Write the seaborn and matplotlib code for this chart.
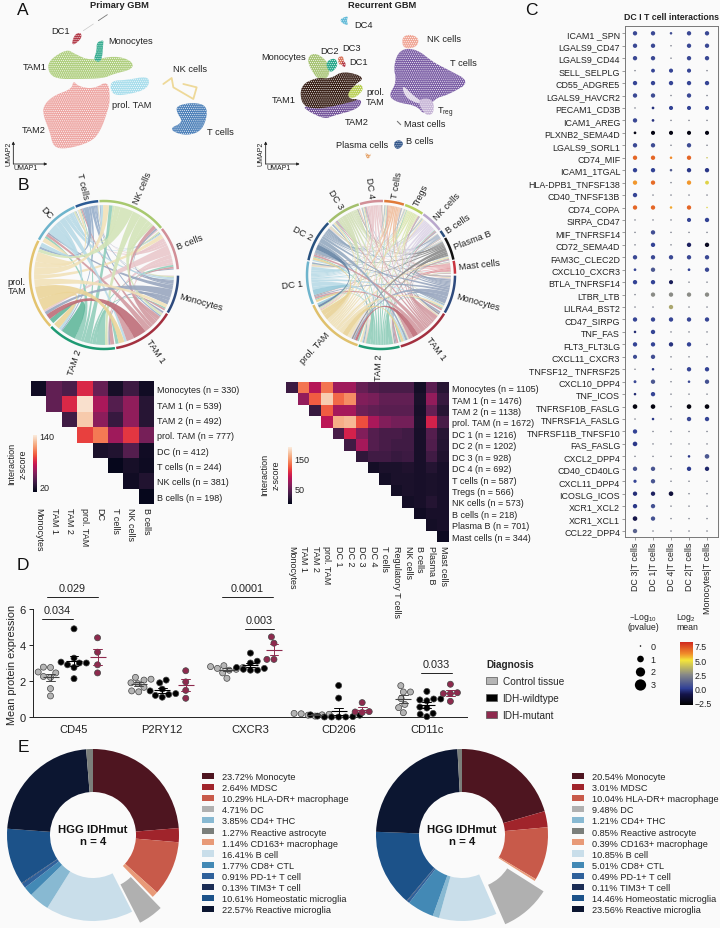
import numpy as np
import pandas as pd
import seaborn as sns
import matplotlib
matplotlib.use("Agg")
import matplotlib.pyplot as plt
from matplotlib.path import Path
from matplotlib.patches import PathPatch, Patch
from matplotlib.colors import LinearSegmentedColormap, Normalize, to_rgb
from matplotlib.cm import ScalarMappable

sns.set_theme(style="white")
plt.rcParams["font.family"] = ["Liberation Sans", "DejaVu Sans"]
plt.rcParams["mathtext.default"] = "regular"
plt.rcParams["hatch.linewidth"] = 0.4

BG = "#fafafa"
TXT = "#222222"
W, H = 720, 929

# ---- panel A, cluster outlines (3x pixel units)
umap_primary = {
    "TAM2": ("#eea8a5", [(220,245),(235,262),(280,270),(325,245),(330,300),(325,330),(300,400),(270,430),(200,450),(160,445),(150,400),(130,350),(130,320),(160,290),(215,270)]),
    "TAM1": ("#b0cf80", [(145,185),(200,150),(225,165),(270,185),(345,170),(395,185),(400,210),(340,225),(310,238),(240,240),(170,240),(145,220)]),
    "prol": ("#a9deec", [(335,245),(380,243),(440,232),(450,250),(435,272),(390,285),(345,290),(330,270)]),
    "DC1": ("#b23a48", [(215,132),(225,105),(243,100),(245,118),(222,138)]),
    "Mono": ("#2fa98c", [(290,130),(310,123),(310,132),(305,190),(280,185),(290,155)]),
    "Tc": ("#4f82ba", [(530,320),(580,310),(620,320),(620,360),(600,400),(550,410),(505,390),(550,370),(530,340)]),
}
umap_recurrent = {
    "DC4": ("#5bb7d6", [(1020,60),(1045,50),(1040,65),(1045,80),(1025,72)]),
    "Tc": ("#7c5fa6", [(1200,150),(1250,150),(1300,190),(1340,210),(1412,248),(1350,285),(1300,300),(1275,350),(1250,320),(1190,310),(1165,290),(1190,250),(1180,200)]),
    "Thole": ("#ddd3e6", [(1205,255),(1240,290),(1270,310),(1255,315),(1215,295)]),
    "Treg": ("#c6b4d6", [(1250,300),(1300,298),(1302,345),(1275,350)]),
    "NK": ("#f0a898", [(1205,115),(1230,105),(1258,118),(1250,145),(1210,150)]),
    "Mono": ("#a8c476", [(925,170),(950,162),(985,190),(990,230),(960,250),(925,200)]),
    "TAM2": ("#75569b", [(905,320),(985,325),(1045,305),(1088,300),(1075,330),(1000,350),(975,360),(930,340)]),
    "TAM1": ("#3a2118", [(900,260),(950,235),(990,240),(1030,215),(1097,235),(1060,260),(1040,300),(1085,300),(1010,320),(950,330),(905,320)]),
    "prol": ("#b9cf55", [(1060,260),(1085,255),(1090,275),(1060,300),(1040,290)]),
    "DC2": ("#2aa88a", [(975,190),(1005,175),(1015,200),(990,225)]),
    "DC3": ("#d9785f", [(1012,175),(1030,170),(1032,195),(1018,200)]),
    "DC1": ("#b23a48", [(1025,185),(1037,190),(1036,205),(1027,203)]),
    "Plasma": ("#e5a36a", [(1095,460),(1110,470),(1115,460),(1108,478),(1100,478)]),
    "B": ("#2a4f85", [(1182,428),(1200,422),(1212,435),(1195,452),(1183,445)]),
}
nk_trace = [(490,255),(515,237),(520,265),(580,300),(590,265),(550,255)]
umap_labels = [
    ("DC1",183,94),("Monocytes",391,124),("TAM1",104,202),("NK cells",571,209),("prol. TAM",394,316),
    ("TAM2",100,392),("T cells",660,398),("DC4",1090,75),("NK cells",1332,117),("DC3",1054,145),("DC2",989,153),
    ("Monocytes",850,173),("DC1",1076,187),("T cells",1391,192),("prol.\nTAM",1125,292),("TAM1",851,302),
    ("TAM2",1070,367),("Mast cells",1275,374),("Plasma cells",1087,436),("B cells",1258,424),
]

# ---- panel B
left_cells = ["Monocytes","TAM 1","TAM 2","prol. TAM","DC","T cells","NK cells","B cells"]
left_n = [330,539,492,777,412,244,381,198]
left_spans = [31,50,55,72,39,19,55,35]
left_colors = ["#2e4a7d","#a3303f","#1f9a73","#e3c36e","#6eb4cc","#2b5a94","#a8c96f","#d28f97"]
left_matrix = [
    [12,40,33,80,42,14,28,12],
    [0,40,80,138,63,36,55,20],
    [0,0,29,130,54,26,55,20],
    [0,0,0,88,104,60,85,47],
    [0,0,0,0,16,18,36,12],
    [0,0,0,0,0,8,14,11],
    [0,0,0,0,0,0,12,18],
    [0,0,0,0,0,0,0,8],
]
right_cells = ["Monocytes","TAM 1","TAM 2","prol. TAM","DC 1","DC 2","DC 3","DC 4","T cells","Tregs","NK cells","B cells","Plasma B","Mast cells"]
right_xnames = ["Monocytes","TAM 1","TAM 2","prol. TAM","DC 1","DC 2","DC 3","DC 4","T cells","Regulatory T cells","NK cells","B cells","Plasma B","Mast cells"]
right_n = [1105,1476,1138,1672,1216,1202,928,692,587,566,573,218,701,344]
right_spans = [31,44,33,48.5,34.5,34,28,19,16.5,16,18.5,6.5,19,11]
right_colors = ["#2e4a7d","#a3303f","#1f9a73","#dfc06c","#6eb4cc","#27517f","#a3bf6c","#d28f97","#e07b39","#b7cf5f","#b9a7cc","#2d4f7c","#111111","#c8343f"]
right_matrix = [
    [30,135,85,135,75,75,50,40,36,36,36,10,45,20],
    [0,70,125,175,130,145,62,58,48,48,48,14,70,28],
    [0,0,28,125,78,78,54,48,44,44,44,12,50,20],
    [0,0,0,88,160,165,120,80,62,56,56,14,100,36],
    [0,0,0,0,36,100,62,42,36,36,32,12,42,20],
    [0,0,0,0,0,32,78,42,36,32,32,12,40,18],
    [0,0,0,0,0,0,24,32,32,28,30,12,32,16],
    [0,0,0,0,0,0,0,10,14,14,16,12,18,12],
    [0,0,0,0,0,0,0,0,10,14,14,12,14,12],
    [0,0,0,0,0,0,0,0,0,10,14,12,14,12],
    [0,0,0,0,0,0,0,0,0,0,10,12,18,12],
    [0,0,0,0,0,0,0,0,0,0,0,8,12,12],
    [0,0,0,0,0,0,0,0,0,0,0,0,10,12],
    [0,0,0,0,0,0,0,0,0,0,0,0,0,6],
]

# ---- panel C
pairs = ["ICAM1 _SPN","LGALS9_CD47","LGALS9_CD44","SELL_SELPLG","CD55_ADGRE5","LGALS9_HAVCR2","PECAM1_CD3B","ICAM1_AREG",
         "PLXNB2_SEMA4D","LGALS9_SORL1","CD74_MIF","ICAM1_1TGAL","HLA-DPB1_TNFSF138","CD40_TNFSF13B","CD74_COPA","SIRPA_CD47",
         "MIF_TNFRSF14","CD72_SEMA4D","FAM3C_CLEC2D","CXCL10_CXCR3","BTLA_TNFRSF14","LTBR_LTB","LILRA4_BST2","CD47_SIRPG",
         "TNF_FAS","FLT3_FLT3LG","CXCL11_CXCR3","TNFSF12_ TNFRSF25","CXCL10_DPP4","TNF_ICOS","TNFRSF10B_FASLG","TNFRSF1A_FASLG",
         "TNFRSF11B_TNFSF10","FAS_FASLG","CXCL2_DPP4","CD40_CD40LG","CXCL11_DPP4","ICOSLG_ICOS","XCR1_XCL2","XCR1_XCL1","CCL22_DPP4"]
dot_cols = ["DC 3|T cells","DC 1|T cells","DC 4|T cells","DC 2|T cells","Monocytes|T cells"]
dot_p = [
    [.4,.4,.1,.4,.4],[.4,.4,0,.4,.4],[.4,.4,0,.4,.4],[0,.3,.35,.35,0],[.4,.4,.4,.4,.4],[.4,.4,0,.4,0],
    [0,.12,.35,.35,.35],[.4,.12,0,0,0],[.12,.35,.35,.35,.35],[.4,.4,0,.4,0],[.4,.4,.1,.4,0],[.4,.4,.1,.4,.4],
    [.4,.4,0,.4,.3],[.4,0,0,0,0],[.4,.4,.1,.4,0],[0,0,0,.35,.4],[0,.4,0,0,0],[0,.4,0,.4,.4],
    [.4,.4,.4,.4,.4],[.12,.4,0,.12,.4],[.4,.4,.35,0,0],[0,.4,.4,.4,.4],[0,0,.4,0,0],[.4,.4,.4,.4,.4],
    [.1,.4,0,0,0],[.4,.4,.4,.4,0],[.35,.4,0,0,0],[0,.1,0,.4,.4],[.15,.4,0,.1,.4],[.1,.4,0,0,0],
    [.45,.45,0,.45,.45],[0,.1,0,.4,.4],[.4,0,0,0,0],[.45,0,0,0,0],[0,0,0,.1,.45],[.4,.4,0,.4,.4],
    [.2,.4,0,0,0],[.4,.4,.45,0,0],[.4,.4,0,0,0],[.45,.4,0,0,0],[.4,0,0,0,0],
]
dot_mean = [
    [.3,.3,.5,.3,.3],[.3,.3,2,.3,.3],[.3,.3,2,.3,.3],[2,.2,.2,.2,2],[.2,.2,.2,.2,.2],[.3,.4,2,.3,2],
    [2,-.3,.1,.1,.1],[.3,-.3,2,2,2],[-2.4,-2.4,-2.4,-2.4,-2.4],[.3,.4,2,.4,2],[6.9,6.9,6.2,6.9,4],[.1,.1,1,-.2,-.2],
    [6,6.8,2,6,4.5],[.2,2,2,2,2],[6.9,6.9,5.8,6.9,4.5],[2,2,2,.2,.1],[2,.5,2,2,2],[2,.1,2,-.7,-2],
    [.3,.3,.3,.3,.3],[.2,.8,2,.1,.3],[.1,.1,-.8,2,2],[2,2.5,2.5,2.5,2.5],[2,2,3.3,2,2],[.2,.2,.2,.2,.2],
    [-.5,.2,2,2,2],[.1,.1,-.3,.1,2],[.4,.5,2,2,2],[2,-.2,2,.2,.1],[.3,.8,2,.3,.6],[-.5,.2,2,2,2],
    [-2.5,-2.5,2,-2.5,-2.5],[2,-.2,2,.3,.2],[.1,2,2,2,2],[-.2,2,2,2,2],[2,2,2,-.2,.8],[.7,.7,2,-.1,-.6],
    [.2,.7,2,2,2],[-.4,-.7,-1.4,2,2],[-.2,.6,2,2,2],[-1,.6,2,2,2],[1.2,2,2,2,2],
]
p_levels = [0,1,2,3]
mean_ticks = [7.5,5.0,2.5,0.0,-2.5]

# ---- panel D
markers_d = ["CD45","P2RY12","CXCR3","CD206","CD11c"]
diagnoses = ["Control tissue","IDH-wildtype","IDH-mutant"]
d_values = {
    "CD45": [[1.17,1.58,2.2,2.25,2.5,2.45,2.77,2.75],[2.13,2.75,2.9,3.0,3.05,3.0,3.27,4.9],[2.45,2.9,3.6,4.4]],
    "P2RY12": [[1.4,1.45,1.65,1.85,2.05,2.1,2.2,1.9],[1.1,1.2,1.25,1.3,1.45,1.55,1.9,2.05],[1.04,1.48,1.95,2.57]],
    "CXCR3": [[2.15,2.45,2.6,2.65,2.7,2.75,2.8,2.85],[2.6,2.6,2.65,2.7,2.75,3.0,3.1,3.55],[3.2,3.2,4.1,4.45]],
    "CD206": [[.05,.1,.12,.15,.18,.2],[0,0,0,0,.02,.05,.1,.12,1.05,1.75],[.25,.28,.3,.8]],
    "CD11c": [[.24,.52,.7,1.02,1.39,1.39,1.74],[.02,.15,.2,.5,.55,.9,.95,1.0,1.0,1.42],[.87,1.3,1.3,1.35,1.82]],
}
brackets = [(-.306,.272,6.67,"0.029"),(-.363,-.011,5.45,"0.034"),(1.677,2.255,6.67,"0.0001"),(1.938,2.266,4.9,"0.003"),(3.932,4.283,2.45,"0.033")]

# ---- panel E
cell_types = ["Monocyte","MDSC","HLA-DR+ macrophage","DC","CD4+ THC","Reactive astrocyte","CD163+ macrophage","B cell",
              "CD8+ CTL","PD-1+ T cell","TIM3+ T cell","Homeostatic microglia","Reactive microglia"]
pct_left = [23.72,2.64,10.29,4.71,3.85,1.27,1.14,16.41,1.77,0.91,0.13,10.61,22.57]
pct_right = [20.54,3.01,10.04,9.48,1.21,0.85,0.39,10.85,5.01,0.49,0.11,14.46,23.56]
cell_colors = ["#4e1520","#a0242b","#c85a4a","#b0b0b0","#88b9d2","#7b7f7b","#e89a78","#c9deea","#4389b5","#2f619b","#1b2d55","#1c5289","#0c1631"]
wedge_order = [0,1,2,6,3,7,4,8,9,10,11,12,5]


def axpx(fig, x0, y0, x1, y1, **kw):
    # axes from pixel box, y measured from the top
    return fig.add_axes([x0/W, 1-y1/H, (x1-x0)/W, (y1-y0)/H], **kw)


def lighten(c, f=0.55):
    return tuple(np.array(to_rgb(c))*(1-f)+f)


def arc(a0, a1, r, n=8):
    t = np.radians(np.linspace(a0, a1, n))
    return np.c_[r*np.cos(t), r*np.sin(t)]


def rounded(pts, rounds=2):
    # corner cutting so the outlines do not look like polygons
    xy = np.array(pts, float)
    for _ in range(rounds):
        nxt = np.roll(xy, -1, axis=0)
        xy = np.c_[.75*xy+.25*nxt, .25*xy+.75*nxt].reshape(-1, 2)
    return xy


def chord(ax, spans, colors, names, matrix, rot_override, label_r=1.06):
    m = np.array(matrix, float)
    m = m+m.T
    np.fill_diagonal(m, 0)
    n = len(spans)
    gap = 1.0
    starts = -np.r_[0, np.cumsum(spans)[:-1]]
    own, foreign = {}, {}
    frac = .3
    for i in range(n):
        top, bot = starts[i]-gap/2, starts[i]-spans[i]+gap/2
        span = top-bot
        partners = [(i-k) % n for k in range(1, n)]
        tot = sum(m[i, j] for j in partners)
        # foreign ends sit on both edges, own fan in the middle
        half = n//2
        cur = top
        for j in partners[:half]:
            w = frac*span*m[i, j]/tot
            foreign[(i, j)] = (cur, cur-w)
            cur -= w
        for j in partners:
            w = (1-frac)*span*m[i, j]/tot
            own[(i, j)] = (cur, cur-w)
            cur -= w
        for j in partners[half:]:
            w = frac*span*m[i, j]/tot
            foreign[(i, j)] = (cur, cur-w)
            cur -= w
        ring = arc(top, bot, 1.0, 20)
        ax.plot(ring[:, 0], ring[:, 1], color=colors[i], lw=1.8, solid_capstyle="butt")
        mid = np.radians((top+bot)/2)
        ang = np.degrees(mid)
        rot = ang if np.cos(mid) > 0 else ang+180
        ha = "left" if np.cos(mid) > 0 else "right"
        if names[i] in rot_override:
            rot = rot_override[names[i]]
        ax.text(label_r*np.cos(mid), label_r*np.sin(mid), names[i].replace("prol. TAM", "prol.\nTAM") if names[i] in rot_override else names[i],
                rotation=rot, rotation_mode="anchor", ha=ha, va="center", fontsize=6.7, color=TXT, linespacing=1.1,
                multialignment="center")
    links = sorted(own.keys(), key=lambda k: m[k])
    r = .945
    k = .33
    for i, j in links:
        a0, a1 = own[(i, j)]
        b0, b1 = foreign[(j, i)]
        pa, pb = arc(a0, a1, r), arc(b0, b1, r, 4)
        verts = [pa[0]]
        codes = [Path.MOVETO]
        for v in pa[1:]:
            verts.append(v)
            codes.append(Path.LINETO)
        verts += [pa[-1]*k, pb[0]*k, pb[0]]
        codes += [Path.CURVE4]*3
        for v in pb[1:]:
            verts.append(v)
            codes.append(Path.LINETO)
        verts += [pb[-1]*k, pa[0]*k, pa[0]]
        codes += [Path.CURVE4]*3
        weight = m[i, j]/m.max()
        col = lighten(colors[i], .5 if weight < .9 else .28)
        ax.add_patch(PathPatch(Path(verts, codes), fc=col, ec="none", alpha=.88, zorder=2+weight))
    ax.set_xlim(-1.62, 1.62)
    ax.set_ylim(-1.62, 1.62)
    ax.set_aspect("equal")
    ax.axis("off")


def tri_heatmap(fig, box, cbox, matrix, ylabels, xlabels, vmin, vmax, cticks):
    ax = axpx(fig, *box)
    cax = axpx(fig, *cbox)
    arr = np.array(matrix, float)
    sns.heatmap(arr, mask=np.tril(np.ones_like(arr, bool), -1), cmap="rocket", vmin=vmin, vmax=vmax, ax=ax, cbar_ax=cax,
                linewidths=0, xticklabels=xlabels, yticklabels=ylabels)
    ax.patch.set_alpha(0)
    ax.yaxis.tick_right()
    ax.tick_params(length=0, pad=2, labelsize=6.5, labelcolor=TXT)
    ax.tick_params(axis="y", labelrotation=0)
    ax.tick_params(axis="x", labelrotation=270)
    cax.set_yticks(cticks)
    cax.tick_params(length=0, pad=2, labelsize=6.5, labelcolor=TXT)
    cax.set_zorder(ax.get_zorder()+1)
    return ax


fig = plt.figure(figsize=(W/100, H/100), dpi=100, facecolor=BG)

# overlay in pixel units for the panel letters and free labels
ov = axpx(fig, 0, 0, W, H, zorder=20)
ov.set_xlim(0, W)
ov.set_ylim(H, 0)
ov.axis("off")
ov.patch.set_alpha(0)
for s, x, y in [("A",23,10),("B",23,185),("C",531,10),("D",23,566),("E",23,748)]:
    ov.text(x, y, s, fontsize=12.5, ha="center", va="center", color="#111111")

# A
ua = axpx(fig, 0, 0, 520, 170)
ua.set_xlim(0, 1560)
ua.set_ylim(510, 0)
ua.axis("off")
ua.patch.set_alpha(0)
for clusters in (umap_primary, umap_recurrent):
    for col, pts in clusters.values():
        xy = rounded(pts)
        ua.fill(xy[:, 0], xy[:, 1], facecolor=col, edgecolor="white", hatch="........", lw=0)
xy = np.array(nk_trace)
ua.plot(xy[:, 0], xy[:, 1], color="#eed999", lw=1.3)
ua.plot([250,280], [95,75], color="#c9c9c9", lw=.5)
ua.plot([295,322], [65,47], color="#777777", lw=.6)
ua.plot([1192,1202], [367,377], color="#777777", lw=.8)
for s, x, y in umap_labels:
    ua.text(x, y, s, fontsize=6.7, ha="center", va="center", color=TXT, linespacing=1.05)
ua.text(1337, 338, r"T$_{reg}$", fontsize=6.7, ha="center", va="center", color=TXT)
ua.text(358, 17, "Primary GBM", fontsize=6.7, fontweight="bold", ha="center", va="center", color=TXT)
ua.text(1145, 17, "Recurrent GBM", fontsize=6.7, fontweight="bold", ha="center", va="center", color=TXT)
for x0 in (40, 797):
    ua.annotate("", xy=(x0, 427), xytext=(x0, 495), arrowprops=dict(arrowstyle="-|>", lw=.6, color="#222222", mutation_scale=4, shrinkA=0, shrinkB=0))
    ua.annotate("", xy=(x0+102, 495), xytext=(x0, 495), arrowprops=dict(arrowstyle="-|>", lw=.6, color="#222222", mutation_scale=4, shrinkA=0, shrinkB=0))
    ua.text(x0-13, 460, "UMAP2", fontsize=5, rotation=90, ha="center", va="center", color=TXT)
    ua.text(x0+38, 507, "UMAP1", fontsize=5, ha="center", va="center", color=TXT)

# B chords, axes box is 1.62 R around the centre
R = 74
ca = axpx(fig, 104-1.62*R, 276-1.62*R, 104+1.62*R, 276+1.62*R)
chord(ca, left_spans, left_colors, left_cells, left_matrix, {"prol. TAM": 0})
ca.patch.set_alpha(0)
cb = axpx(fig, 381-1.62*R, 276-1.62*R, 381+1.62*R, 276+1.62*R)
chord(cb, right_spans, right_colors, right_cells, right_matrix, {})
cb.patch.set_alpha(0)

# B heatmaps
tri_heatmap(fig, (31,382,154,505), (33,436,37,493), left_matrix,
            [f"{c} (n = {k})" for c, k in zip(left_cells, left_n)], left_cells, 6, 142, [20,140])
tri_heatmap(fig, (286,383,449,543), (288,448,292,505), right_matrix,
            [f"{c} (n = {k})" for c, k in zip(right_cells, right_n)], right_xnames, 0, 190, [50,150])
ov.text(12, 464, "Interaction", rotation=90, fontsize=6.5, ha="center", va="center", color=TXT)
ov.text(23, 464, "z-score", rotation=90, fontsize=6.5, ha="center", va="center", color=TXT)
ov.text(265, 475, "Interaction", rotation=90, fontsize=6.5, ha="center", va="center", color=TXT)
ov.text(276, 475, "z-score", rotation=90, fontsize=6.5, ha="center", va="center", color=TXT)

# C
mean_cmap = LinearSegmentedColormap.from_list("cpdb", [(0,"#000000"),(.17,"#15154a"),(.26,"#2f3f96"),(.49,"#8b8c86"),(.71,"#f4e53a"),(.82,"#f08a2a"),(1,"#d0281f")])
mean_norm = Normalize(-2.9, 8.2)
size_range = (1.2, 66)
long = pd.DataFrame({
    "pair": np.repeat(pairs, len(dot_cols)),
    "cells": dot_cols*len(pairs),
    "p": np.ravel(dot_p),
    "mean": np.ravel(dot_mean),
})
dc = axpx(fig, 625, 27, 718, 538)
sns.scatterplot(data=long, x="cells", y="pair", size="p", sizes=size_range, size_norm=(0, 3), hue="mean",
                palette=mean_cmap, hue_norm=mean_norm, linewidth=0, legend=False, ax=dc)
dc.set_xlim(-.556, 4.61)
dc.set_ylim(40.48, -.587)
dc.set_xlabel("")
dc.set_ylabel("")
dc.tick_params(axis="y", length=2, width=.5, pad=1.5, labelsize=6.4, labelcolor=TXT, color="#777777", left=True)
dc.tick_params(axis="x", length=2, width=.5, pad=1.5, labelsize=6.4, labelcolor=TXT, color="#777777", bottom=True, labelrotation=90)
for s in dc.spines.values():
    s.set_color("#777777")
    s.set_linewidth(.7)
dc.set_facecolor(BG)
ov.text(671, 17, "DC I T cell interactions", fontsize=6.3, fontweight="bold", ha="center", va="center", color=TXT)

pl = axpx(fig, 630, 640, 660, 693)
pl_df = pd.DataFrame({"x": [0]*4, "p": p_levels})
sns.scatterplot(data=pl_df, x="x", y="p", size="p", sizes=size_range, size_norm=(0, 3), color="black", linewidth=0, legend=False, ax=pl)
pl.set_ylim(3.54, -.54)
pl.set_xlim(-.7, 1.3)
pl.axis("off")
for v in p_levels:
    pl.text(.85, v, str(v), fontsize=6.5, va="center", ha="center", color=TXT)
ov.text(643, 622, "–Log$_{10}$\n(pvalue)", fontsize=6.3, ha="center", va="center", color=TXT, linespacing=1.0)
ov.text(676, 622, "Log$_{2}$\nmean", fontsize=6.3, ha="left", va="center", color=TXT, linespacing=1.0)
mc = axpx(fig, 680, 643, 693, 706)
cbar = fig.colorbar(ScalarMappable(norm=mean_norm, cmap=mean_cmap), cax=mc, ticks=mean_ticks)
cbar.outline.set_visible(False)
cbar.ax.set_yticklabels(["7.5","5.0","2.5","0.0","−2.5"])
mc.tick_params(length=0, pad=1.5, labelsize=6.3, labelcolor=TXT)

# D
rows = []
for mk in markers_d:
    for dg, vals in zip(diagnoses, d_values[mk]):
        rows += [(mk, dg, v) for v in vals]
dd = pd.DataFrame(rows, columns=["marker", "diagnosis", "value"])
dpal = ["#b5b5b5", "#000000", "#8e2a4e"]
ax = axpx(fig, 33, 592, 467, 718)
ax.patch.set_alpha(0)
sns.swarmplot(data=dd, x="marker", y="value", hue="diagnosis", hue_order=diagnoses, palette=dpal, dodge=True,
              size=1.7, linewidth=.5, edgecolor="#444444", legend=False, ax=ax, clip_on=False, zorder=3)
for coll in ax.collections:
    coll.set_sizes([19])
sns.pointplot(data=dd, x="marker", y="value", hue="diagnosis", hue_order=diagnoses, palette=["#444444", "#000000", "#8e2a4e"],
              dodge=.533, errorbar="se", capsize=.1, markers="_", markersize=11, markeredgewidth=.8, linestyle="none",
              err_kws={"linewidth": .7}, legend=False, ax=ax, zorder=4)
ax.set_xlim(-.465, 4.455)
ax.set_ylim(0, 7)
ax.set_yticks([0, 2, 4, 6])
ax.set_xlabel("")
ax.set_ylabel("Mean protein expression", fontsize=7.8, color=TXT, y=.42, labelpad=2)
ax.tick_params(axis="y", length=3, width=.7, labelsize=8, pad=2, labelcolor=TXT, left=True, color="#222222")
ax.tick_params(axis="x", length=0, labelsize=8, pad=5, labelcolor=TXT)
sns.despine(ax=ax)
ax.spines["left"].set_bounds(0, 6)
ax.spines["left"].set_linewidth(.7)
ax.spines["bottom"].set_linewidth(.7)
ax.spines["left"].set_color("#222222")
ax.spines["bottom"].set_color("#222222")
for x0, x1, y, s in brackets:
    ax.plot([x0, x1], [y, y], color="#222222", lw=.7, clip_on=False)
    ax.text((x0+x1)/2, y+.22, s, fontsize=7.8, ha="center", va="bottom", color=TXT, clip_on=False)
ax.legend(handles=[Patch(fc=c, ec="#555555", lw=.5, label=l) for c, l in zip(dpal, diagnoses)], title="Diagnosis",
          title_fontproperties={"weight": "bold", "size": 7.2}, fontsize=7.2, frameon=False, loc="upper left",
          bbox_to_anchor=(486/W, 1-660/H), bbox_transform=fig.transFigure, handlelength=1.1, handleheight=.6,
          handletextpad=.55, labelspacing=.7, alignment="left", borderpad=0, borderaxespad=0)

# E
for cx, pct, lx in [(93, pct_left, 202), (462, pct_right, 572)]:
    pie = axpx(fig, cx-105, 836-105, cx+105, 836+105)
    pie.patch.set_alpha(0)
    vals = [pct[i] for i in wedge_order]
    cols = [cell_colors[i] for i in wedge_order]
    expl = [.13 if cell_types[i] == "DC" else 0 for i in wedge_order]
    wedges, _ = pie.pie(vals, colors=cols, explode=expl, startangle=90, counterclock=False, radius=86/105,
                        wedgeprops=dict(width=43/105, linewidth=0))
    pie.set_xlim(-1, 1)
    pie.set_ylim(-1, 1)
    pie.text(0, 0, "HGG IDHmut\nn = 4", fontsize=8.2, fontweight="bold", ha="center", va="center", color="#111111", linespacing=1.35)
    lookup = dict(zip(wedge_order, wedges))
    pie.legend([lookup[i] for i in range(len(cell_types))], [f"{p:.2f}% {c}" for p, c in zip(pct, cell_types)],
               fontsize=6.6, frameon=False, loc="upper left", bbox_to_anchor=(lx/W, 1-773/H), bbox_transform=fig.transFigure,
               handlelength=1.3, handleheight=.65, handletextpad=.87, labelspacing=.23, borderpad=0, borderaxespad=0,
               labelcolor=TXT)

fig.savefig("out.png", dpi=100, facecolor=BG)
